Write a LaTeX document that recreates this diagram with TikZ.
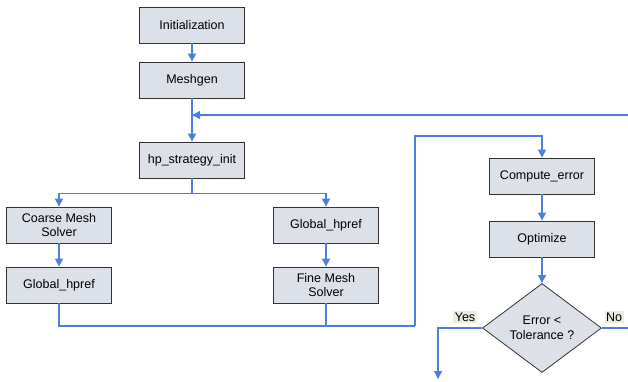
\documentclass[tikz,border=0pt]{standalone}
\usepackage{fontspec}
\setmainfont{Liberation Sans}
\usetikzlibrary{shapes.geometric,arrows.meta}
\definecolor{flowblue}{RGB}{78,126,222}
\definecolor{boxgray}{RGB}{220,224,232}
\definecolor{tagbeige}{RGB}{236,236,222}
\tikzstyle{proc}+=[draw=black!80,line width=0.8pt,fill=boxgray,minimum width=105pt,minimum height=36pt,inner sep=0pt,align=center,font=\fontsize{12.5}{14.5}\selectfont]
\tikzstyle{test}+=[proc,diamond,aspect=1.34,minimum width=119pt,minimum height=89pt]
\tikzstyle{tag}+=[fill=tagbeige,inner sep=1.5pt,font=\fontsize{12.5}{14.5}\selectfont]
\tikzstyle{wire}+=[draw=flowblue,line width=1.2pt]
\tikzstyle{flow}+=[wire,-{Triangle[length=8pt,width=8pt]}]

\begin{document}
\begin{tikzpicture}[x=1pt,y=-1pt]
    \useasboundingbox (0,0) rectangle (628,381);
    \node[proc] (init) at (192,25) {Initialization};
    \node[proc] (mesh) at (192,80) {Meshgen};
    \node[proc] (hp) at (192,160) {hp\_strategy\_init};
    \node[proc] (coarse) at (59,225) {Coarse Mesh\\Solver};
    \node[proc] (grefl) at (59,285) {Global\_hpref};
    \node[proc] (grefr) at (326,225) {Global\_hpref};
    \node[proc] (fine) at (326,285) {Fine Mesh\\Solver};
    \node[proc] (cerr) at (542,176) {Compute\_error};
    \node[proc] (opt) at (542,239) {Optimize};
    \node[test] (tol) at (542,328) {Error <\\Tolerance ?};
    \node[tag] (yes) at (465,317) {Yes};
    \node[tag] (no) at (614,317) {No};
    \coordinate (backin) at (628,115);
    \coordinate (noend) at (628,328);
    \coordinate (merge) at (415,326);
    \coordinate (yesend) at (438,379);
    \draw[flow] (init) -- (mesh);
    \draw[flow] (mesh) -- (hp);
    \draw[flow] (backin) -- (hp.north |- backin);
    \draw[flow] (hp.south) -- ++(0,15) -| (coarse.north);
    \draw[flow] (hp.south) -- ++(0,15) -| (grefr.north);
    \draw[flow] (coarse) -- (grefl);
    \draw[flow] (grefr) -- (fine);
    \draw[wire] (grefl.south) |- (merge);
    \draw[wire] (fine.south) -- (fine.south |- merge);
    \draw[flow] (merge) -- ++(0,-190) -| (cerr.north);
    \draw[flow] (cerr) -- (opt);
    \draw[flow] (opt) -- (tol);
    \draw[flow] (tol.west) -| (yesend);
    \draw[wire] (tol.east) -- (noend);
  \end{tikzpicture}
\end{document}
